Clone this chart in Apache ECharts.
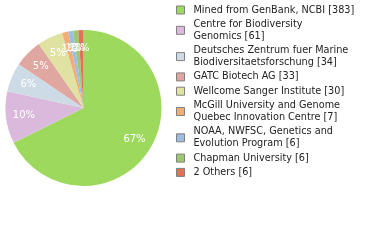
<!DOCTYPE html>
<html><head><meta charset="utf-8">
<script src="https://cdn.jsdelivr.net/npm/echarts@6/dist/echarts.min.js"></script>
<style>html,body{margin:0;padding:0;background:#fff}#c{width:380px;height:240px}</style>
</head><body><div id="c"></div>
<script>
const categories = ["Mined from GenBank, NCBI", "Centre for Biodiversity Genomics", "Deutsches Zentrum fuer Marine Biodiversitaetsforschung", "GATC Biotech AG", "Wellcome Sanger Institute", "McGill University and Genome Quebec Innovation Centre", "NOAA, NWFSC, Genetics and Evolution Program", "Chapman University", "2 Others"];
const legendLines = ["Mined from GenBank, NCBI", "Centre for Biodiversity\nGenomics", "Deutsches Zentrum fuer Marine\nBiodiversitaetsforschung", "GATC Biotech AG", "Wellcome Sanger Institute", "McGill University and Genome\nQuebec Innovation Centre", "NOAA, NWFSC, Genetics and\nEvolution Program", "Chapman University", "2 Others"];
const counts = [383, 61, 34, 33, 30, 7, 6, 6, 6];
const colors = ["#9dd95d", "#dbb9dc", "#cddbe6", "#dfa7a0", "#e0e2a2", "#f1ad72", "#9dbde2", "#9fc76e", "#e07258"];

const chart = echarts.init(document.getElementById('c'), null, {renderer: 'canvas'});
const data = categories.map((n, i) => ({name: n, value: counts[i], itemStyle: {color: colors[i]}}));
const labelData = categories.map((n, i) => ({name: n, value: counts[i], itemStyle: {color: 'rgba(0,0,0,0)'}}));
const font = 'DejaVu Sans';
chart.setOption({
  animation: false,
  legend: {
    orient: 'vertical', left: 176, top: 4, padding: 0,
    itemWidth: 8, itemHeight: 8, itemGap: 2.3,
    icon: 'rect',
    itemStyle: {borderColor: '#808080', borderWidth: 1},
    textStyle: {fontFamily: font, fontSize: 9.7, color: '#222', lineHeight: 12, padding: [0,0,0,4]},
    formatter: name => { const i = categories.indexOf(name); return legendLines[i] + ' [' + counts[i] + ']'; },
    data: categories
  },
  series: [{
    type: 'pie', center: [83.5, 108], radius: [0, 78], startAngle: 90, clockwise: true,
    label: {show: false}, labelLine: {show: false}, silent: true,
    itemStyle: {borderWidth: 0},
    data: data
  }, {
    type: 'pie', center: [83.5, 108], radius: [0, 114], startAngle: 90, clockwise: true,
    silent: true, legendHoverLink: false, avoidLabelOverlap: false,
    label: {show: true, position: 'inside', color: '#fff', fontFamily: font, fontSize: 10,
      formatter: p => Math.floor(p.percent) + '%'},
    labelLayout: {hideOverlap: false},
    labelLine: {show: false},
    itemStyle: {borderWidth: 0},
    data: labelData,
    tooltip: {show: false}
  }]
});
</script></body></html>
